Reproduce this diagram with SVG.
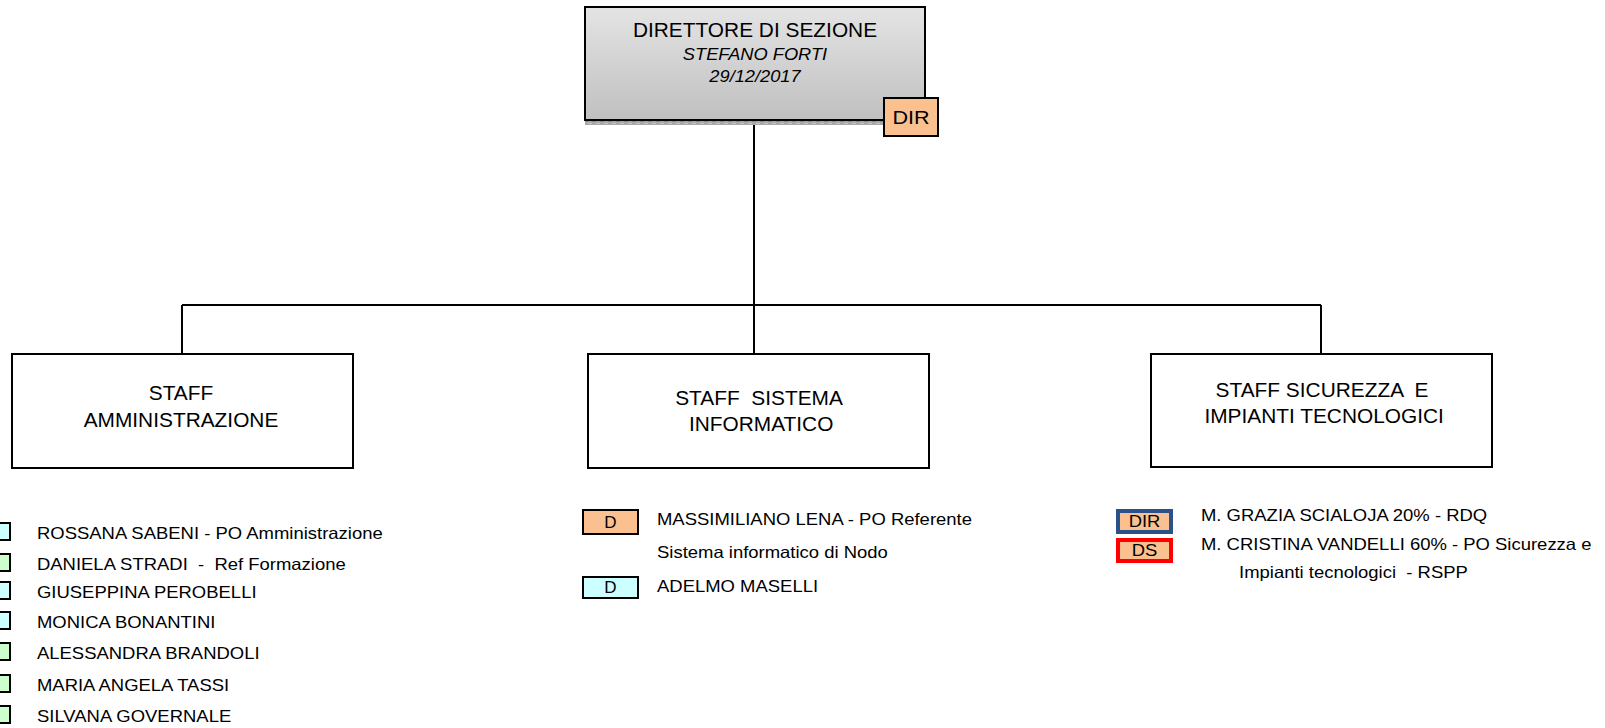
<svg xmlns="http://www.w3.org/2000/svg" width="1605" height="728" viewBox="0 0 1605 728">
<defs>
<linearGradient id="gdir" x1="0" y1="0" x2="0" y2="1">
<stop offset="0" stop-color="#e4e4e4"/>
<stop offset="1" stop-color="#c0c0c0"/>
</linearGradient>
<pattern id="shad" width="8" height="5" patternUnits="userSpaceOnUse">
<rect width="8" height="5" fill="#a8a8a8"/>
<rect x="0" y="1" width="4" height="1" fill="#8c8c8c"/>
<rect x="4" y="3" width="4" height="1" fill="#c8c8c8"/>
</pattern>
</defs>
<style>
text{font-family:"Liberation Sans",Arial,sans-serif;fill:#000}
.box{fill:#fff;stroke:#000;stroke-width:2}
.title{font-size:19.5px;text-anchor:middle}
.list{font-size:16.5px}
.tag{font-size:17px;text-anchor:middle}
.cyan{fill:#ccffff;stroke:#000;stroke-width:2}
.green{fill:#ccffcc;stroke:#000;stroke-width:2}
.orange{fill:#fbc08f;stroke:#000;stroke-width:2}
.conn{fill:none;stroke:#000;stroke-width:2}
</style>
<rect width="1605" height="728" fill="#fff"/>

<g id="connectors">
<path class="conn" d="M754 121 V305 M182 305 H1321 M182 305 V354 M754 305 V354 M1321 305 V354"/>
</g>

<g id="direttore">
<rect x="585" y="120" width="300" height="5" fill="url(#shad)"/>
<rect x="585" y="7" width="340" height="113" fill="url(#gdir)" stroke="#000" stroke-width="2"/>
<g transform="translate(755,0) scale(1.07,1)">
<text class="title" x="0" y="37">DIRETTORE DI SEZIONE</text>
</g>
<g transform="translate(755,0) scale(1.12,1)">
<text x="0" y="60" style="font-size:16.3px;font-style:italic;text-anchor:middle">STEFANO FORTI</text>
<text x="0" y="82" style="font-size:16.3px;font-style:italic;text-anchor:middle">29/12/2017</text>
</g>
<rect class="orange" x="884" y="98" width="54" height="38"/>
<g transform="translate(911,0) scale(1.2,1)">
<text x="0" y="124" style="font-size:18px;text-anchor:middle">DIR</text>
</g>
</g>

<g id="staff-amministrazione">
<rect class="box" x="12" y="354" width="341" height="114"/>
<g transform="translate(181,0) scale(1.07,1)">
<text class="title" x="0" y="400">STAFF</text>
<text class="title" x="0" y="427">AMMINISTRAZIONE</text>
</g>
</g>

<g id="staff-sistema-informatico">
<rect class="box" x="588" y="354" width="341" height="114"/>
<g transform="translate(759,0) scale(1.07,1)">
<text class="title" x="0" y="405" style="white-space:pre">STAFF  SISTEMA</text>
<text class="title" x="2" y="431">INFORMATICO</text>
</g>
</g>

<g id="staff-sicurezza">
<rect class="box" x="1151" y="354" width="341" height="113"/>
<g transform="translate(1322,0) scale(1.07,1)">
<text class="title" x="0" y="397" style="white-space:pre">STAFF SICUREZZA  E</text>
<text class="title" x="2" y="423">IMPIANTI TECNOLOGICI</text>
</g>
</g>

<g id="lista-amministrazione">
<rect class="cyan" x="-10" y="523" width="20" height="17"/>
<rect class="green" x="-10" y="554" width="20" height="17"/>
<rect class="cyan" x="-10" y="582" width="20" height="17"/>
<rect class="cyan" x="-10" y="612" width="20" height="17"/>
<rect class="green" x="-10" y="643" width="20" height="17"/>
<rect class="green" x="-10" y="675" width="20" height="17"/>
<rect class="green" x="-10" y="706" width="20" height="17"/>
<g transform="scale(1.12,1)">
<text class="list" x="33" y="539">ROSSANA SABENI - PO Amministrazione</text>
<text class="list" x="33" y="570" style="white-space:pre">DANIELA STRADI  -  Ref Formazione</text>
<text class="list" x="33" y="598">GIUSEPPINA PEROBELLI</text>
<text class="list" x="33" y="628">MONICA BONANTINI</text>
<text class="list" x="33" y="659">ALESSANDRA BRANDOLI</text>
<text class="list" x="33" y="691">MARIA ANGELA TASSI</text>
<text class="list" x="33" y="722">SILVANA GOVERNALE</text>
</g>
</g>

<g id="lista-sistema-informatico">
<rect class="orange" x="583" y="510" width="55" height="24"/>
<rect class="cyan" x="583" y="577" width="55" height="21"/>
<text class="tag" x="610.5" y="528">D</text>
<text class="tag" x="610.5" y="593">D</text>
<g transform="scale(1.12,1)">
<text class="list" x="586.6" y="525">MASSIMILIANO LENA - PO Referente</text>
<text class="list" x="586.6" y="558">Sistema informatico di Nodo</text>
<text class="list" x="586.6" y="592">ADELMO MASELLI</text>
</g>
</g>

<g id="lista-sicurezza">
<rect x="1118" y="511" width="53" height="21" fill="#fbc08f" stroke="#2a5189" stroke-width="4"/>
<rect x="1118" y="540" width="53" height="21" fill="#fbc08f" stroke="#ff0000" stroke-width="4"/>
<g transform="translate(1144.5,0) scale(1.15,1)">
<text x="0" y="527.5" style="font-size:16px;text-anchor:middle">DIR</text>
<text x="0" y="556.5" style="font-size:16px;text-anchor:middle">DS</text>
</g>
<g transform="scale(1.12,1)">
<text class="list" x="1072.3" y="521">M. GRAZIA SCIALOJA 20% - RDQ</text>
<text class="list" x="1072.3" y="550">M. CRISTINA VANDELLI 60% - PO Sicurezza e</text>
<text class="list" x="1106.3" y="578" style="white-space:pre">Impianti tecnologici  - RSPP</text>
</g>
</g>
</svg>
